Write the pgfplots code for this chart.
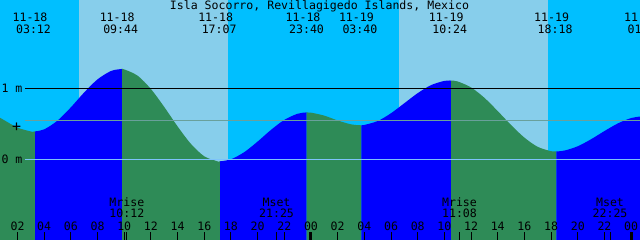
\documentclass[border=0pt]{standalone}
\usepackage{fontspec}
\setmainfont{DejaVu Sans Mono}
\usepackage{pgfplots}
\pgfplotsset{compat=1.18}
\usepgfplotslibrary{fillbetween}
\tikzset{fill between/on layer=main}
\definecolor{night}{RGB}{0,191,255}
\definecolor{day}{RGB}{135,206,235}
\definecolor{flood}{RGB}{0,0,255}
\definecolor{ebb}{RGB}{46,139,87}
\definecolor{meanc}{RGB}{105,160,155}
\definecolor{datumc}{RGB}{125,195,250}
\begin{document}
\begin{tikzpicture}[font=\fontsize{11.6}{13}\selectfont]
\begin{axis}[
 width=640bp, height=240bp, scale only axis,
 xmin=0.688, xmax=48.664, ymin=-1.1366, ymax=2.2437,
 axis line style={draw=none},
 axis background/.style={fill=night},
 axis on top,
 ytick=\empty,
 xtick={2,4,6,8,10,12,14,16,18,20,22,26,28,30,32,34,36,38,40,42,44,46},
 xticklabels={02,04,06,08,10,12,14,16,18,20,22,02,04,06,08,10,12,14,16,18,20,22},
 xtick pos=left,
 tick align=inside,
 major tick length=8bp, minor tick length=8bp,
 tick style={black, line width=1bp},
 minor xtick={10.2,21.417,35.133,46.417},
 extra x ticks={24,48}, extra x tick labels={00,00},
 extra x tick style={tick style={line width=3bp}},
 xticklabel style={anchor=base, yshift=10bp, inner sep=0pt},
]
% daylight
\addplot[fill=day, draw=none] coordinates {(6.61,-1.2) (17.78,-1.2) (17.78,2.3) (6.61,2.3)};
\addplot[fill=day, draw=none] coordinates {(30.60,-1.2) (41.77,-1.2) (41.77,2.3) (30.60,2.3)};
% tide
\addplot[draw=none, name path=tide, smooth] coordinates {
(0.5,0.606) (1,0.551) (2,0.446) (3,0.392) (3.2,0.39) (4,0.422) (5,0.545) (6,0.732) (7,0.942) (8,1.126) (9,1.243) (9.73,1.27) (10,1.266) (11,1.178) (12,0.990) (13,0.737) (14,0.463) (15,0.217) (16,0.042) (17,-0.029) (17.12,-0.03) (18,0.000) (19,0.101) (20,0.250) (21,0.414) (22,0.555) (23,0.642) (23.67,0.66) (24,0.657) (25,0.615) (26,0.547) (27,0.492) (27.67,0.48) (28,0.484) (29,0.539) (30,0.649) (31,0.790) (32,0.932) (33,1.045) (34,1.105) (34.4,1.11) (35,1.096) (36,1.012) (37,0.866) (38,0.679) (39,0.482) (40,0.305) (41,0.175) (42,0.114) (42.3,0.11) (43,0.123) (44,0.184) (45,0.283) (46,0.398) (47,0.505) (48,0.581) (49,0.610)
};
\addplot[draw=none, name path=bottom] coordinates {(0.5,-1.2) (49,-1.2)};
\addplot[ebb] fill between[of=tide and bottom, soft clip={domain=0.5:3.32}];
\addplot[flood] fill between[of=tide and bottom, soft clip={domain=3.32:9.85}];
\addplot[ebb] fill between[of=tide and bottom, soft clip={domain=9.85:17.19}];
\addplot[flood] fill between[of=tide and bottom, soft clip={domain=17.19:23.68}];
\addplot[ebb] fill between[of=tide and bottom, soft clip={domain=23.68:27.78}];
\addplot[flood] fill between[of=tide and bottom, soft clip={domain=27.78:34.51}];
\addplot[ebb] fill between[of=tide and bottom, soft clip={domain=34.51:42.39}];
\addplot[flood] fill between[of=tide and bottom, soft clip={domain=42.39:49}];
% reference lines
\addplot[datumc, line width=1.5bp] coordinates {(2.562,0) (48.664,0)};
\addplot[meanc, line width=1.5bp] coordinates {(2.562,0.549) (48.664,0.549)};
\addplot[black, line width=1.5bp] coordinates {(2.562,1) (48.664,1)};
% level labels
\node[anchor=base, inner sep=0pt] at (axis cs:1.588,0.944) {1 m};
\node[anchor=base, inner sep=0pt] at (axis cs:1.588,-0.056) {0 m};
\node[anchor=center, inner sep=0pt, font=\fontsize{15}{15}\selectfont] at (axis cs:1.925,0.448) {+};
% title
\node[anchor=base, inner sep=0pt] at (axis cs:24.638,2.110) {Isla Socorro, Revillagigedo Islands, Mexico};
% tide events
\node[anchor=base, inner sep=0pt, xshift=-3.5bp] at (axis cs:3.2,1.938) {11-18};
\node[anchor=base, inner sep=0pt] at (axis cs:3.2,1.775) {03:12};
\node[anchor=base, inner sep=0pt, xshift=-3.5bp] at (axis cs:9.733,1.938) {11-18};
\node[anchor=base, inner sep=0pt] at (axis cs:9.733,1.775) {09:44};
\node[anchor=base, inner sep=0pt, xshift=-3.5bp] at (axis cs:17.117,1.938) {11-18};
\node[anchor=base, inner sep=0pt] at (axis cs:17.117,1.775) {17:07};
\node[anchor=base, inner sep=0pt, xshift=-3.5bp] at (axis cs:23.667,1.938) {11-18};
\node[anchor=base, inner sep=0pt] at (axis cs:23.667,1.775) {23:40};
\node[anchor=base, inner sep=0pt, xshift=-3.5bp] at (axis cs:27.667,1.938) {11-19};
\node[anchor=base, inner sep=0pt] at (axis cs:27.667,1.775) {03:40};
\node[anchor=base, inner sep=0pt, xshift=-3.5bp] at (axis cs:34.4,1.938) {11-19};
\node[anchor=base, inner sep=0pt] at (axis cs:34.4,1.775) {10:24};
\node[anchor=base, inner sep=0pt, xshift=-3.5bp] at (axis cs:42.3,1.938) {11-19};
\node[anchor=base, inner sep=0pt] at (axis cs:42.3,1.775) {18:18};
\node[anchor=base, inner sep=0pt, xshift=-3.5bp] at (axis cs:49.04,1.938) {11-20};
\node[anchor=base, inner sep=0pt] at (axis cs:49.04,1.775) {01:03};
% moon events
\node[anchor=base, inner sep=0pt] at (axis cs:10.2,-0.658) {Mrise};
\node[anchor=base, inner sep=0pt] at (axis cs:10.2,-0.823) {10:12};
\node[anchor=base, inner sep=0pt] at (axis cs:21.417,-0.658) {Mset};
\node[anchor=base, inner sep=0pt] at (axis cs:21.417,-0.823) {21:25};
\node[anchor=base, inner sep=0pt] at (axis cs:35.133,-0.658) {Mrise};
\node[anchor=base, inner sep=0pt] at (axis cs:35.133,-0.823) {11:08};
\node[anchor=base, inner sep=0pt] at (axis cs:46.417,-0.658) {Mset};
\node[anchor=base, inner sep=0pt] at (axis cs:46.417,-0.823) {22:25};
\end{axis}
\pgfresetboundingbox
\useasboundingbox (current axis.south west) rectangle (current axis.north east);
\end{tikzpicture}
\end{document}
